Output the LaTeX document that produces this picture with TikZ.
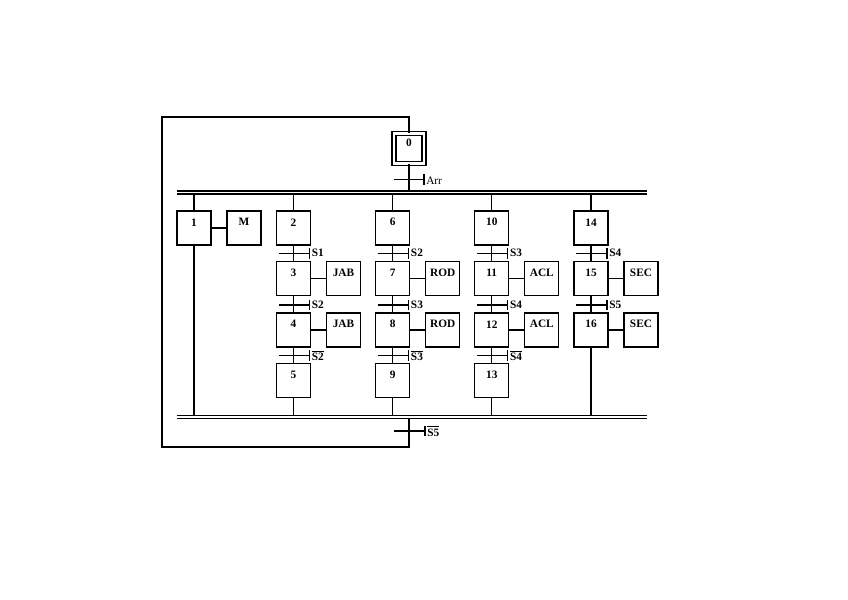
\documentclass[tikz,border=0pt]{standalone}
\usepackage{fontspec}
\setmainfont{Liberation Serif}
\newcommand\grafTrans[2]{%
  \draw ([xshift=-11.25pt]#1) -- ([xshift=12pt]#1);
  \draw ([xshift=12pt,yshift=3.9pt]#1) -- ([xshift=12pt,yshift=-3.9pt]#1);
  \node[tlbl] (#1l) at ([xshift=12pt]#1) {#2};}
\begin{document}
\begin{tikzpicture}[x=0.75pt,y=-0.75pt,line width=1pt,
  stepbox/.style={draw,minimum width=25.5pt,minimum height=25.5pt,inner sep=0pt},
  lbl/.style={font=\fontsize{8.5}{10}\selectfont\bfseries,yshift=4.3pt,inner sep=0pt},
  tlbl/.style={font=\fontsize{8.5}{10}\selectfont\bfseries,anchor=west,inner sep=1.2pt},
  initstep/.style={draw,minimum width=22.5pt,minimum height=22.5pt,inner sep=0pt,double,double distance=2.2pt,line width=0.8pt}]
\useasboundingbox (0,0) rectangle (848,599);

% initial step
\node[initstep,label={[lbl]center:0}] (s0) at (409,148.7) {};
% top and bottom double bars
\coordinate (tbL1) at (176.7,191); \coordinate (tbR1) at (646.5,191);
\coordinate (tbL2) at (176.7,194); \coordinate (tbR2) at (646.5,194);
\coordinate (bbL1) at (176.7,415.7); \coordinate (bbR1) at (646.5,415.7);
\coordinate (bbL2) at (176.7,418.7); \coordinate (bbR2) at (646.5,418.7);
\draw (tbL1) -- (tbR1); \draw (tbL2) -- (tbR2);
\draw (bbL1) -- (bbR1); \draw (bbL2) -- (bbR2);

% steps
\node[stepbox,label={[lbl]center:1}] (s1) at (194,228) {};
\node[stepbox,label={[lbl]center:M}] (aM) at (244,228) {};

\node[stepbox,label={[lbl]center:2}] (s2) at (293.5,228) {};
\node[stepbox,label={[lbl]center:3}] (s3) at (293.5,278.7) {};
\node[stepbox,label={[lbl]center:JAB}] (a3) at (343.5,278.7) {};
\node[stepbox,label={[lbl]center:4}] (s4) at (293.5,330) {};
\node[stepbox,label={[lbl]center:JAB}] (a4) at (343.5,330) {};
\node[stepbox,label={[lbl]center:5}] (s5) at (293.5,380.5) {};

\node[stepbox,label={[lbl]center:6}] (s6) at (392.7,228) {};
\node[stepbox,label={[lbl]center:7}] (s7) at (392.7,278.7) {};
\node[stepbox,label={[lbl]center:ROD}] (a7) at (442.7,278.7) {};
\node[stepbox,label={[lbl]center:8}] (s8) at (392.7,330) {};
\node[stepbox,label={[lbl]center:ROD}] (a8) at (442.7,330) {};
\node[stepbox,label={[lbl]center:9}] (s9) at (392.7,380.5) {};

\node[stepbox,label={[lbl]center:10}] (s10) at (491.8,228) {};
\node[stepbox,label={[lbl]center:11}] (s11) at (491.8,278.7) {};
\node[stepbox,label={[lbl]center:ACL}] (a11) at (541.8,278.7) {};
\node[stepbox,label={[lbl]center:12}] (s12) at (491.8,330) {};
\node[stepbox,label={[lbl]center:ACL}] (a12) at (541.8,330) {};
\node[stepbox,label={[lbl]center:13}] (s13) at (491.8,380.5) {};

\node[stepbox,label={[lbl]center:14}] (s14) at (591,228) {};
\node[stepbox,label={[lbl]center:15}] (s15) at (591,278.7) {};
\node[stepbox,label={[lbl]center:SEC}] (a15) at (641,278.7) {};
\node[stepbox,label={[lbl]center:16}] (s16) at (591,330) {};
\node[stepbox,label={[lbl]center:SEC}] (a16) at (641,330) {};

% action links
\draw (s1) -- (aM);
\draw (s3) -- (a3); \draw (s4) -- (a4);
\draw (s7) -- (a7); \draw (s8) -- (a8);
\draw (s11) -- (a11); \draw (s12) -- (a12);
\draw (s15) -- (a15); \draw (s16) -- (a16);

% vertical links
\draw (s0.south) -- (s0.south |- tbL1);
\foreach \s in {s1,s2,s6,s10,s14} { \draw (\s.north) -- (\s.north |- tbL2); }
\draw (s2) -- (s3); \draw (s3) -- (s4); \draw (s4) -- (s5);
\draw (s6) -- (s7); \draw (s7) -- (s8); \draw (s8) -- (s9);
\draw (s10) -- (s11); \draw (s11) -- (s12); \draw (s12) -- (s13);
\draw (s14) -- (s15); \draw (s15) -- (s16);
\foreach \s in {s1,s5,s9,s13,s16} { \draw (\s.south) -- (\s.south |- bbL1); }

% transitions
\coordinate (tArr) at (409,179.3);
\draw ([xshift=-11.25pt]tArr) -- ([xshift=11.25pt]tArr);
\draw ([xshift=11.25pt,yshift=3.9pt]tArr) -- ([xshift=11.25pt,yshift=-3.9pt]tArr);
\node[font=\fontsize{8.5}{10}\selectfont,anchor=west,inner sep=1.2pt] (tArrl) at ([xshift=11.25pt,yshift=-0.8pt]tArr) {Arr};

\coordinate (t2a) at (293.5,253.3); \grafTrans{t2a}{S1}
\coordinate (t2b) at (293.5,305);   \grafTrans{t2b}{S2}
\coordinate (t2c) at (293.5,355.5); \grafTrans{t2c}{$\overline{\mbox{\bfseries S2}}$}
\coordinate (t6a) at (392.7,253.3); \grafTrans{t6a}{S2}
\coordinate (t6b) at (392.7,305);   \grafTrans{t6b}{S3}
\coordinate (t6c) at (392.7,355.5); \grafTrans{t6c}{$\overline{\mbox{\bfseries S3}}$}
\coordinate (t10a) at (491.8,253.3); \grafTrans{t10a}{S3}
\coordinate (t10b) at (491.8,305);   \grafTrans{t10b}{S4}
\coordinate (t10c) at (491.8,355.5); \grafTrans{t10c}{$\overline{\mbox{\bfseries S4}}$}
\coordinate (t14a) at (591,253.3); \grafTrans{t14a}{S4}
\coordinate (t14b) at (591,305);   \grafTrans{t14b}{S5}

% return loop
\coordinate (tS5) at (409,431);
\coordinate (lpBR) at (409,447);
\coordinate (lpBL) at (162,447);
\coordinate (lpTL) at (162,117);
\coordinate (lpTR) at (409,117);
\draw (tS5 |- bbL2) -- (lpBR) -- (lpBL) -- (lpTL) -- (lpTR) -- (s0.north);
\grafTrans{tS5}{$\overline{\mbox{\bfseries S5}}$}
\end{tikzpicture}
\end{document}
